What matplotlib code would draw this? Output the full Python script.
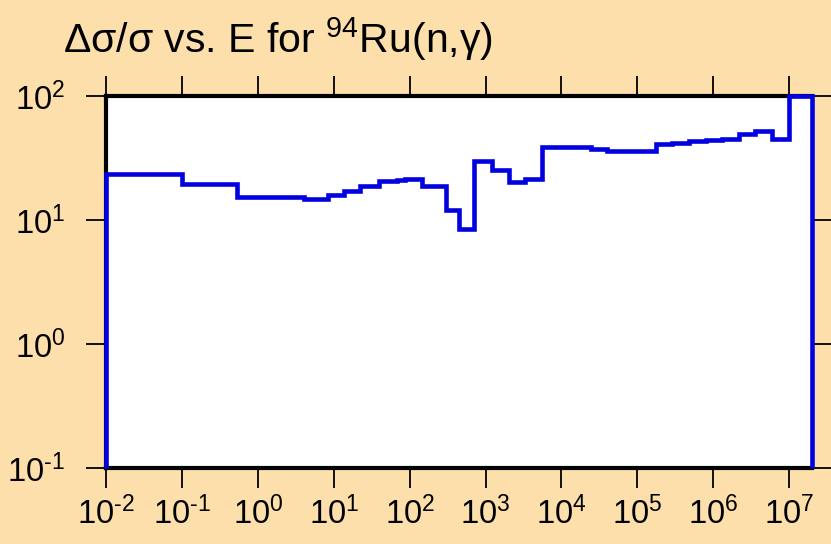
#!/usr/bin/env python
"""Relative uncertainty step plot for 94Ru(n,g)."""

import matplotlib
matplotlib.use("Agg")
import matplotlib.pyplot as plt
from matplotlib.ticker import NullLocator

# Group boundaries (eV) and relative uncertainty (%) per group
energy_edges = [1e-2, 0.1, 0.53, 4, 8.3, 13.7, 22.4, 40, 69, 88, 147, 302, 447,
                700, 1230, 2040, 3300, 5500, 24700, 40000, 178000, 290000,
                480000, 810000, 1.3e6, 2.2e6, 3.6e6, 6e6, 1e7, 2e7]
rel_unc = [23.5, 19.5, 15.2, 14.8, 15.9, 17.2, 18.8, 20.5, 21.2, 21.6, 18.7,
           12.0, 8.4, 30.0, 25.3, 20.2, 21.3, 39.0, 37.4, 36.2, 41.0, 42.0,
           43.2, 44.2, 45.3, 49.0, 52.5, 45.0, 100.0]
x_decades = list(range(-2, 8))
y_decades = list(range(-1, 3))

BG = "#fddfab"


def dec_label(d):
    # hyphen instead of the mathtext minus, as in the original
    exp = r"\text{-}" + str(-d) if d < 0 else str(d)
    return f"$10^{{{exp}}}$"


plt.rcParams["font.family"] = ["Liberation Sans", "DejaVu Sans"]
plt.rcParams["mathtext.default"] = "regular"
plt.rcParams["mathtext.fontset"] = "custom"
plt.rcParams["mathtext.rm"] = "Liberation Sans"

fig = plt.figure(figsize=(8.31, 5.44), dpi=100, facecolor=BG)
ax = fig.add_axes([106 / 831, 1 - 468 / 544, (812 - 106) / 831, (468 - 96) / 544])
ax.set_facecolor("white")

ax.stairs(rel_unc, energy_edges, baseline=0.1, color="#0000e0", lw=3.3,
          zorder=3, clip_on=False)

ax.set_xscale("log")
ax.set_yscale("log")
ax.set_xlim(energy_edges[0], energy_edges[-1])
ax.set_ylim(0.1, 100)

ax.set_xticks([10.0 ** d for d in x_decades])
ax.set_xticklabels([dec_label(d) for d in x_decades])
ax.set_yticks([10.0 ** d for d in y_decades])
ax.set_yticklabels([dec_label(d) for d in y_decades])
ax.xaxis.set_minor_locator(NullLocator())
ax.yaxis.set_minor_locator(NullLocator())

ax.tick_params(axis="both", which="major", direction="out", length=14.5,
               width=1.3, labelsize=23.5, color="black")
ax.tick_params(axis="x", top=True, pad=6)
ax.tick_params(axis="y", right=True, pad=15)

for side in ["left", "top", "bottom"]:
    ax.spines[side].set_linewidth(3)
ax.spines["right"].set_linewidth(2)

fig.text(63 / 831, 1 - 53 / 544, "Δσ/σ vs. E for $^{94}$Ru(n,γ)",
         fontsize=29.5, ha="left", va="baseline")

fig.savefig("out.png", dpi=100, facecolor=BG)
